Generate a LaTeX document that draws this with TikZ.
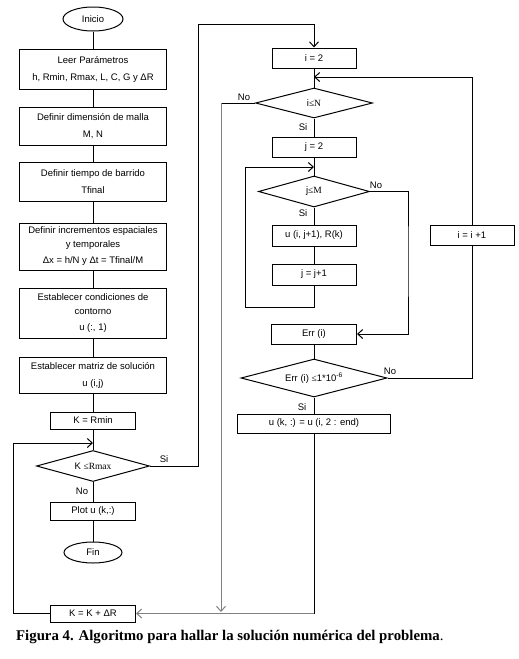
\documentclass[tikz,border=0pt]{standalone}
\usepackage{fontspec}
\setmainfont{Liberation Sans}
\newfontfamily\timesfont{Liberation Serif}
\usepackage{tikz}
\usetikzlibrary{positioning, shapes.geometric, arrows, arrows.meta}
\tikzstyle{process} = [rectangle, draw, line width=1pt, align=center, inner sep=1pt, font=\fontsize{9.5}{14}\selectfont]
\tikzstyle{startstop} = [ellipse, draw, line width=1pt, inner sep=0pt, font=\fontsize{9.5}{14}\selectfont]
\tikzstyle{decision} = [diamond, draw, line width=1pt, inner sep=0pt, aspect=3.7, font=\fontsize{9.5}{14}\selectfont]
\tikzstyle{tag} = [inner sep=0pt, font=\fontsize{9.5}{11}\selectfont]
\tikzstyle{line} = [line width=1pt]
\tikzstyle{arrow} = [line width=1pt,->,>={Straight Barb[length=5pt, width=9pt]}]

\begin{document}
\begin{tikzpicture}[x=1pt, y=-1pt]
  \useasboundingbox (0,0) rectangle (519,659);

  % Main column
  \node[startstop, minimum width=60pt, minimum height=24pt] (start) at (93,19) {Inicio};
  \node[process, minimum width=147pt, minimum height=40pt] (read) at (93,69) {Leer Parámetros\\[3pt] h, Rmin, Rmax, L, C, G y ΔR};
  \node[process, minimum width=147pt, minimum height=38pt] (mesh) at (93,126) {Definir dimensión de malla\\[3pt] M, N};
  \node[process, minimum width=147pt, minimum height=39pt] (sweep) at (93,181.5) {Definir tiempo de barrido\\[3pt] Tfinal};
  \node[process, minimum width=147pt, minimum height=47pt] (incr) at (93,246.5) {Definir incrementos espaciales\\ y temporales\\[2pt] Δx = h/N y Δt = Tfinal/M};
  \node[process, minimum width=147pt, minimum height=50pt] (bound) at (93,313) {Establecer condiciones de\\ contorno\\[2pt] u (:, 1)};
  \node[process, minimum width=147pt, minimum height=36pt] (solmat) at (93,375) {Establecer matriz de solución\\[3pt] u (i,j)};
  \node[process, minimum width=85pt, minimum height=17pt] (kmin) at (93,420.5) {K = Rmin};
  \node[decision, minimum width=113pt, minimum height=31pt] (kcond) at (93,466) {K {\timesfont ≤Rmax}};
  \node[process, minimum width=85pt, minimum height=18pt] (plot) at (93,511) {Plot u (k,:)};
  \node[startstop, minimum width=58pt, minimum height=21pt] (stop) at (93,552.5) {Fin};
  \node[process, minimum width=85pt, minimum height=17pt] (kinc) at (93,613.5) {K = K + ΔR};

  % Inner loops
  \node[process, minimum width=84pt, minimum height=20pt] (i2) at (314,58) {i = 2};
  \node[decision, minimum width=117pt, minimum height=30pt] (icond) at (314,103) {i{\timesfont ≤N}};
  \node[process, minimum width=84pt, minimum height=20pt] (j2) at (314,147) {j = 2};
  \node[decision, minimum width=111pt, minimum height=31pt] (jcond) at (314,191.5) {j{\timesfont ≤M}};
  \node[process, minimum width=84pt, minimum height=21pt] (uij) at (314,235.5) {u (i, j+1), R(k)};
  \node[process, minimum width=84pt, minimum height=21pt] (jinc) at (314,274.5) {j = j+1};
  \node[process, minimum width=85pt, minimum height=20pt] (err) at (314,334) {Err (i)};
  \node[decision, minimum width=146pt, minimum height=38pt] (errcond) at (314,378) {Err (i) {\timesfont ≤}1*10\textsuperscript{-6}};
  \node[process, minimum width=153pt, minimum height=19pt] (ukend) at (314,423.5) {u (k, :) = u (i, 2 : end)};
  \node[process, minimum width=84pt, minimum height=20pt] (iinc) at (472,235) {i = i +1};

  % Bends and joins
  \coordinate (kjoin) at (93,443);
  \coordinate (kleft) at (13,443);
  \coordinate (sitop) at (198,24);
  \coordinate (ijoin) at (314,77);
  \coordinate (inoturn) at (221,103);
  \coordinate (kend) at (221,612);
  \coordinate (jjoin) at (314,167);
  \coordinate (jlow) at (245,307);
  \coordinate (jright) at (408,260);
  \coordinate (ubottom) at (314,613.5);

  \draw[line] (start) -- (read) -- (mesh) -- (sweep) -- (incr) -- (bound) -- (solmat) -- (kmin) -- (kcond);
  \draw[line] (kcond) -- (plot) -- (stop);
  \draw[arrow] (kcond.east) -| (sitop) -| (i2.north);
  \draw[arrow] (kinc.west) -| (kleft) -- (kjoin);

  \draw[line] (i2) -- (icond) -- (j2) -- (jcond) -- (uij) -- (jinc);
  \draw[line] (icond.west) -- (inoturn);
  \draw[arrow, gray] (inoturn) -- (kend);
  \draw[arrow] (jinc.south) |- (jlow) |- (jjoin);
  \draw[arrow] (jcond.east) -| (jright) |- (err.east);
  \draw[line] (err) -- (errcond) -- (ukend);
  \draw[line] (errcond.east) -| (iinc.south);
  \draw[arrow] (iinc.north) |- (ijoin);
  \draw[line] (ukend.south) -- (ubottom);
  \draw[arrow, gray] (ubottom) -- (kinc.east);

  % Branch labels
  \node[tag] (sik) at (164,459) {Si};
  \node[tag] (nok) at (82,491) {No};
  \node[tag] (noi) at (244,97) {No};
  \node[tag] (sii) at (303,127) {Si};
  \node[tag] (noj) at (376,185) {No};
  \node[tag] (sij) at (303,213) {Si};
  \node[tag] (noerr) at (390,371) {No};
  \node[tag] (sierr) at (302,407) {Si};

  \node[anchor=west, inner sep=0pt, font=\fontsize{14.8}{16}\selectfont\timesfont\bfseries] (caption) at (16,637) {Figura 4. Algoritmo para hallar la solución numérica del problema\textmd{.}};
\end{tikzpicture}
\end{document}
